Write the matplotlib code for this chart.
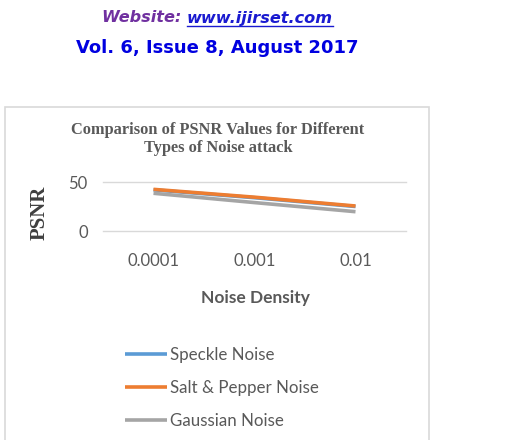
import matplotlib
matplotlib.use("Agg")
import matplotlib.pyplot as plt
from matplotlib.patches import Rectangle
from matplotlib.lines import Line2D

# data
densities = ["0.0001", "0.001", "0.01"]
speckle = [42.0, 34.0, 25.0]
salt_pepper = [42.5, 34.5, 25.5]
gaussian = [38.5, 29.0, 19.7]

W, H = 506, 440
fig = plt.figure(figsize=(W / 100, H / 100), dpi=100)

def fx(px):
    return px / W

def fy(py):
    return 1 - py / H

# header lines of the page
t1 = fig.text(fx(102), fy(18), "Website: ", color="#7030a0", fontsize=11.6,
              fontweight="bold", style="italic", va="center", ha="left",
              family="DejaVu Sans")
fig.canvas.draw()
r = fig.canvas.get_renderer()
bb = t1.get_window_extent(r)
t2 = fig.text(bb.x1 / W, fy(18), "www.ijirset.com", color="#1a1ad0", fontsize=11.6,
              fontweight="bold", style="italic", va="center", ha="left",
              family="DejaVu Sans")
bb2 = t2.get_window_extent(r)
fig.add_artist(Line2D([bb2.x0 / W, bb2.x1 / W], [fy(26), fy(26)], color="#1a1ad0",
                      lw=1.0, transform=fig.transFigure))
fig.text(fx(217), fy(48), "Vol. 6, Issue 8, August 2017", color="#0000e0",
         fontsize=13, fontweight="bold", ha="center", va="center",
         family="DejaVu Sans")

# chart frame
fig.add_artist(Rectangle((fx(5), fy(445)), fx(424), (445 - 107) / H,
                         transform=fig.transFigure, fill=False,
                         edgecolor="#d9d9d9", lw=1.2))

fig.text(fx(218), fy(139), "Comparison of PSNR Values for Different\nTypes of Noise attack",
         ha="center", va="center", family="Liberation Serif", fontweight="bold",
         fontsize=11.8, color="#595959", linespacing=1.1)

ax = fig.add_axes([fx(103), fy(231), fx(303), (231 - 182) / H])
x = range(len(densities))
ax.plot(x, speckle, color="#5b9bd5", lw=2.6, label="Speckle Noise", solid_capstyle="butt")
ax.plot(x, salt_pepper, color="#ed7d31", lw=2.6, label="Salt & Pepper Noise", solid_capstyle="butt")
ax.plot(x, gaussian, color="#a5a5a5", lw=2.6, label="Gaussian Noise", solid_capstyle="butt")
ax.set_xlim(-0.5, 2.5)
ax.set_ylim(0, 50)
ax.set_yticks([0, 50])
ax.set_xticks(list(x))
ax.set_xticklabels(densities)
ax.grid(axis="y", color="#d9d9d9", lw=1)
for gl in ax.get_ygridlines():
    gl.set_clip_on(False)
ax.set_axisbelow(True)
for s in ax.spines.values():
    s.set_visible(False)
ax.tick_params(length=0, labelsize=12, labelcolor="#595959")
ax.tick_params(axis="x", pad=16)
ax.tick_params(axis="y", pad=11)
for lab in ax.get_xticklabels() + ax.get_yticklabels():
    lab.set_family("Lato")

fig.text(fx(40), fy(213), "PSNR", rotation=90, ha="center", va="center",
         family="Liberation Serif", fontweight="bold", fontsize=15, color="#404040")
fig.text(fx(255), fy(298), "Noise Density", ha="center", va="center",
         family="Lato", fontweight="bold", fontsize=12.5, color="#595959")

leg = fig.legend(loc="upper left", bbox_to_anchor=(fx(118), fy(340)),
                 frameon=False, prop={"family": "Lato", "size": 12.2},
                 handlelength=2.5, handletextpad=0.15, labelspacing=1.02,
                 borderaxespad=0)
for txt in leg.get_texts():
    txt.set_color("#595959")

fig.savefig("out.png", dpi=100)
